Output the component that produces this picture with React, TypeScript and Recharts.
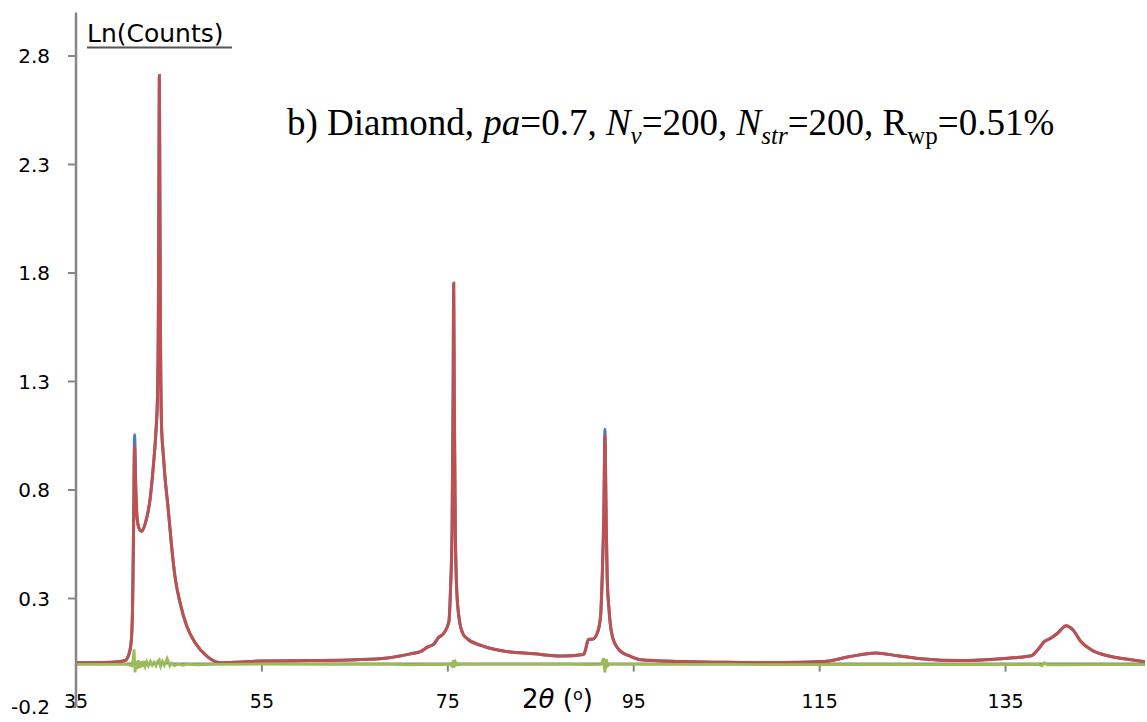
import { LineChart, Line, XAxis, YAxis, ReferenceLine } from "recharts";

// 2θ sample points for the observed / calculated profiles
const profileX: number[] = [
  35, 38, 39.5, 40.3, 40.8, 41.0, 41.1, 41.2, 41.3, 41.45, 41.6, 41.82, 42.07, 42.43, 42.97,
  43.32, 43.6, 43.76, 43.86, 43.92, 43.97, 44.02, 44.08, 44.2, 44.38, 44.56, 44.92, 45.28, 45.64,
  46.2, 46.92, 47.82, 49.1, 50.5, 52, 55, 60, 65.2, 68.5, 71, 72.05, 72.8, 73.5, 74, 74.56,
  75.1, 75.28, 75.46, 75.57, 75.63, 75.69, 75.8, 75.97, 76.28, 76.6, 77.08, 78.5, 80.66,
  84.3, 87.2, 89.6, 89.85, 90.05, 90.2, 90.54, 91.08, 91.43, 91.61, 91.79, 91.9, 92.02,
  92.14, 92.34, 92.7, 93.41, 94.67, 95.74, 100, 105, 110.82, 115.49, 118, 121.05, 123.39,
  126.25, 129.85, 135.24, 137.75, 138.47, 139.19, 139.9, 140.62, 141.52, 142.24, 143.1,
  144.2, 146, 148.5, 150,
];

// Ln(counts), observed
const observed: number[] = [
  0.004, 0.005, 0.008, 0.015, 0.06, 0.14, 0.3, 0.65, 1.055, 0.78, 0.66, 0.62, 0.61, 0.643, 0.758,
  0.91, 1.07, 1.22, 1.6, 2.2, 2.71, 2.2, 1.6, 1.1, 0.97, 0.866, 0.712, 0.542, 0.403,
  0.28, 0.172, 0.096, 0.033, 0.004, 0.006, 0.012, 0.014, 0.018, 0.026, 0.045, 0.055, 0.076, 0.09, 0.12, 0.14,
  0.19, 0.33, 0.635, 1.25, 1.754, 1.25, 0.635, 0.328, 0.19, 0.14, 0.115, 0.085, 0.06,
  0.045, 0.035, 0.042, 0.07, 0.105, 0.112, 0.112, 0.141, 0.218, 0.403, 0.712, 1.08, 0.712,
  0.403, 0.249, 0.125, 0.064, 0.033, 0.018, 0.01, 0.006, 0.005, 0.01, 0.03, 0.049, 0.036,
  0.021, 0.014, 0.025, 0.036, 0.064, 0.102, 0.118, 0.141, 0.175, 0.156, 0.102,
  0.064, 0.036, 0.018, 0.008,
];

// Ln(counts), calculated
const calculated: number[] = [
  0.004, 0.005, 0.008, 0.015, 0.06, 0.14, 0.3, 0.65, 1.0, 0.78, 0.66, 0.62, 0.61, 0.643, 0.758,
  0.91, 1.07, 1.22, 1.6, 2.2, 2.71, 2.2, 1.6, 1.1, 0.97, 0.866, 0.712, 0.542, 0.403,
  0.28, 0.172, 0.096, 0.033, 0.004, 0.006, 0.012, 0.014, 0.018, 0.026, 0.045, 0.055, 0.076, 0.09, 0.12, 0.14,
  0.19, 0.33, 0.635, 1.25, 1.75, 1.25, 0.635, 0.328, 0.19, 0.14, 0.115, 0.085, 0.06,
  0.045, 0.035, 0.042, 0.07, 0.105, 0.112, 0.112, 0.141, 0.218, 0.403, 0.712, 1.05, 0.712,
  0.403, 0.249, 0.125, 0.064, 0.033, 0.018, 0.01, 0.006, 0.005, 0.01, 0.03, 0.049, 0.036,
  0.021, 0.014, 0.025, 0.036, 0.064, 0.102, 0.118, 0.141, 0.175, 0.156, 0.102,
  0.064, 0.036, 0.018, 0.008,
];

// difference curve
const diffX: number[] = [
  35, 38, 40.5, 41.0, 41.15, 41.25, 41.35, 41.45, 41.55, 41.7, 41.85, 42.0, 42.15, 42.3,
  42.45, 42.6, 42.8, 43.0, 43.2, 43.4, 43.6, 43.8, 43.95, 44.1, 44.3, 44.5, 44.65, 44.8,
  44.95, 45.1, 45.3, 45.6, 46.0, 46.5, 47.0, 48, 50, 55, 62, 68, 71, 73, 74.5, 75.2, 75.45,
  75.58, 75.68, 75.82, 76.0, 76.5, 78, 84, 88, 90.2, 91.5, 91.75, 91.9, 92.05, 92.2, 92.4,
  95, 105, 115, 121, 130, 138.5, 138.9, 139.2, 139.5, 141, 145, 150,
];
const difference: number[] = [
  -0.004, -0.004, -0.004, -0.01, 0.02, 0.065, -0.04, 0.01, -0.025, 0.015, -0.02, 0.01, -0.015, 0.012,
  -0.012, 0.008, -0.01, 0.01, -0.008, 0.006, -0.01, 0.012, 0.018, -0.012, 0.01, -0.008, 0.008, 0.024,
  0.008, -0.01, 0.002, -0.01, -0.002, -0.008, -0.003, -0.006, -0.004, -0.002, -0.003, -0.002, -0.006, -0.004, -0.005, -0.002, -0.012,
  0.016, -0.018, 0.008, -0.006, -0.003, -0.004, -0.004, -0.003, -0.005, -0.004, 0.025, -0.04, 0.02, -0.01, -0.004,
  -0.004, -0.004, -0.005, -0.005, -0.005, -0.004, -0.01, 0.003, -0.006, -0.006, -0.005, -0.005,
];

const xTicks: number[] = [35, 55, 75, 95, 115, 135];
const yTicks: number[] = [-0.2, 0.3, 0.8, 1.3, 1.8, 2.3, 2.8];

const obsData = profileX.map((x, i) => ({ x, y: observed[i] }));
const calcData = profileX.map((x, i) => ({ x, y: calculated[i] }));
const diffData = diffX.map((x, i) => ({ x, y: difference[i] }));

const AXIS = "#868686";
const SANS = "'DejaVu Sans', sans-serif";
const SERIF = "'Liberation Serif', 'Times New Roman', serif";

const XTick = (props: any) => {
  const { x, y, payload } = props;
  return (
    <text x={x} y={y + 1} textAnchor="middle" fontFamily={SANS} fontSize={19} fill="#000">
      {payload.value}
    </text>
  );
};

const App = () => {
  return (
    <div style={{ position: "fixed", left: 0, top: 0, width: 1147, height: 722, background: "#fff" }}>
      <LineChart
        width={1147}
        height={722}
        margin={{ top: 12.6, right: 2, bottom: 0, left: 16 }}
      >
        <XAxis
          type="number"
          dataKey="x"
          domain={[35, 150]}
          ticks={xTicks}
          allowDataOverflow
          axisLine={false}
          tickLine={false}
          tickSize={0}
          tickMargin={0}
          height={15}
          tick={<XTick />}
        />
        <YAxis
          type="number"
          domain={[-0.2, 3.0]}
          ticks={yTicks}
          allowDataOverflow
          width={60}
          axisLine={{ stroke: AXIS, strokeWidth: 2.5 }}
          tickLine={{ stroke: AXIS, strokeWidth: 2 }}
          tickSize={8}
          tickMargin={18}
          tick={{ fontFamily: SANS, fontSize: 20, fill: "#000" }}
        />
        <ReferenceLine y={0} stroke={AXIS} strokeWidth={2} />
        {xTicks.slice(1).map((t) => (
          <ReferenceLine
            key={t}
            segment={[{ x: t, y: 0 }, { x: t, y: -0.037 }]}
            stroke={AXIS}
            strokeWidth={2}
          />
        ))}
        <Line data={obsData} dataKey="y" type="monotone" stroke="#4A7EBB" strokeWidth={3} dot={false} isAnimationActive={false} />
        <Line data={calcData} dataKey="y" type="monotone" stroke="#C0504D" strokeWidth={3} dot={false} isAnimationActive={false} />
        <Line data={diffData} dataKey="y" type="linear" stroke="#9BBB59" strokeWidth={2.8} dot={false} isAnimationActive={false} />
      </LineChart>

      <svg width={1147} height={722} style={{ position: "absolute", left: 0, top: 0, pointerEvents: "none" }}>
        <text x={87} y={42} fontFamily={SANS} fontSize={25} fill="#000">Ln(Counts)</text>
        <line x1={87} x2={232} y1={47.5} y2={47.5} stroke="#555" strokeWidth={2} />

        <text x={287} y={135} fontFamily={SERIF} fontSize={37} fill="#000">
          <tspan>b) Diamond, </tspan>
          <tspan fontStyle="italic">pa</tspan>
          <tspan>=0.7, </tspan>
          <tspan fontStyle="italic">N</tspan>
          <tspan fontStyle="italic" fontSize={25} dy={9}>v</tspan>
          <tspan dy={-9}>=200, </tspan>
          <tspan fontStyle="italic">N</tspan>
          <tspan fontStyle="italic" fontSize={25} dy={9}>str</tspan>
          <tspan dy={-9}>=200, R</tspan>
          <tspan fontSize={25} dy={9}>wp</tspan>
          <tspan dy={-9}>=0.51%</tspan>
        </text>

        <text x={522} y={708} fontFamily={SANS} fontSize={26} fill="#000">
          <tspan>2</tspan>
          <tspan fontStyle="italic">θ</tspan>
          <tspan> (</tspan>
          <tspan fontSize={16} dy={-8}>o</tspan>
          <tspan dy={8}>)</tspan>
        </text>
      </svg>
    </div>
  );
};

export default App;
